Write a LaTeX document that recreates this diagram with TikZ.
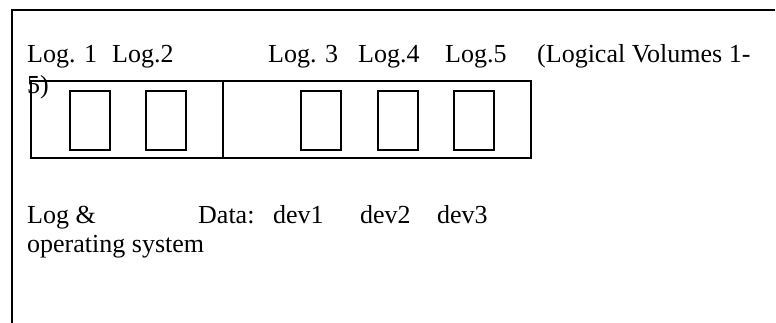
\documentclass[tikz,border=0pt]{standalone}
\usepackage{fontspec}
\setmainfont{Liberation Serif}
\usepackage{tikz}

\tikzset{
  lbl/.style={anchor=base west,inner sep=0pt,font=\fontsize{26}{30}\selectfont},
  volbox/.style={draw,line width=1.7pt,minimum width=40pt,minimum height=59pt,inner sep=0pt,anchor=north west}
}

\begin{document}
\begin{tikzpicture}[x=1pt,y=-1pt]
  \useasboundingbox (0,0) rectangle (776,323);

  % page frame (top and left only)
  \draw[line width=2.8pt] (775,10) -- (12,10) -- (12,323);

  % disk
  \draw[line width=1.7pt] (31,81) rectangle (531,158);
  \draw[line width=1.7pt] (223,81) -- (223,158);

  % logical volumes
  \foreach \x [count=\i] in {69,145,300,377,453} {
    \node[volbox] (vol\i) at (\x,90) {};
  }

  % labels over the volumes
  \node[lbl] (log1) at (27,63) {Log. 1};
  \node[lbl] (log2) at (112,63) {Log.2};
  \node[lbl] (log3) at (268,63) {Log. 3};
  \node[lbl] (log4) at (358,63) {Log.4};
  \node[lbl] (log5) at (445,63) {Log.5};
  \node[lbl] (lvnote) at (537,63) {(Logical Volumes 1-};
  \node[lbl] (lvnote2) at (27,94) {5)};

  % labels under the disk
  \node[lbl] (logos) at (27,223) {Log \&};
  \node[lbl] (logos2) at (27,252) {operating system};
  \node[lbl] (data) at (198,223) {Data:};
  \node[lbl] (dev1) at (273,223) {dev1};
  \node[lbl] (dev2) at (360,223) {dev2};
  \node[lbl] (dev3) at (437,223) {dev3};
\end{tikzpicture}
\end{document}
